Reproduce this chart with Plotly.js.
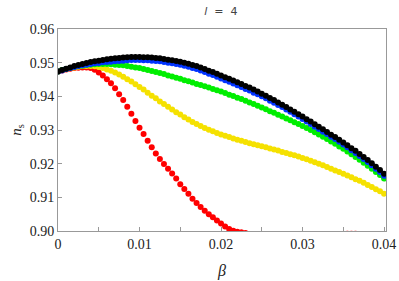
<!DOCTYPE html>
<html>
<head>
<meta charset="utf-8">
<script src="https://cdn.plot.ly/plotly-3.0.1.min.js"></script>
<style>html,body{margin:0;padding:0;background:#fff;}#chart{width:399px;height:281px;}</style>
</head>
<body>
<div id="chart"></div>
<script>
// beta grid (0 to 0.04, step 0.0005)
const beta = [0,0.0005,0.001,0.0015,0.002,0.0025,0.003,0.0035,0.004,0.0045,0.005,0.0055,0.006,0.0065,0.007,0.0075,0.008,0.0085,0.009,0.0095,0.01,0.0105,0.011,0.0115,0.012,0.0125,0.013,0.0135,0.014,0.0145,0.015,0.0155,0.016,0.0165,0.017,0.0175,0.018,0.0185,0.019,0.0195,0.02,0.0205,0.021,0.0215,0.022,0.0225,0.023,0.0235,0.024,0.0245,0.025,0.0255,0.026,0.0265,0.027,0.0275,0.028,0.0285,0.029,0.0295,0.03,0.0305,0.031,0.0315,0.032,0.0325,0.033,0.0335,0.034,0.0345,0.035,0.0355,0.036,0.0365,0.037,0.0375,0.038,0.0385,0.039,0.0395,0.04];

const nsRed = [0.9474,0.9477,0.9480,0.9482,0.9484,0.9485,0.9486,0.9486,0.9484,0.9479,0.9471,0.9462,0.9451,0.9439,0.9424,0.9406,0.9389,0.9369,0.9348,0.9327,0.9307,0.9288,0.9268,0.9249,0.9230,0.9214,0.9199,0.9185,0.9171,0.9156,0.9139,0.9125,0.9111,0.9096,0.9083,0.9071,0.9060,0.9050,0.9041,0.9031,0.9022,0.9013,0.9006,0.9001,0.8998,0.8996,0.8994,0.8990,0.8986,0.8982,0.8978,0.8975,0.8972,0.8970,0.8969,0.8969,0.8970,0.8972,0.8974,0.8976,0.8978,0.8980,0.8982,0.8984,0.8986,0.8987,0.8988,0.8989,0.8990,0.8991,0.8991,0.8992,0.8992,0.8992,0.8991,0.8991,0.8990,0.8989,0.8988,0.8986,0.8984];

const nsYellow = [0.9474,0.9478,0.9481,0.9484,0.9486,0.9488,0.9490,0.9490,0.9490,0.9489,0.9487,0.9484,0.9480,0.9476,0.9471,0.9465,0.9458,0.9451,0.9444,0.9436,0.9428,0.9420,0.9411,0.9402,0.9394,0.9385,0.9377,0.9369,0.9361,0.9353,0.9346,0.9338,0.9331,0.9324,0.9318,0.9312,0.9306,0.9301,0.9296,0.9291,0.9287,0.9283,0.9279,0.9275,0.9271,0.9268,0.9264,0.9261,0.9258,0.9255,0.9252,0.9249,0.9245,0.9242,0.9239,0.9235,0.9232,0.9228,0.9225,0.9221,0.9217,0.9213,0.9209,0.9204,0.9200,0.9195,0.9190,0.9185,0.9180,0.9175,0.9170,0.9165,0.9160,0.9154,0.9149,0.9143,0.9137,0.9131,0.9124,0.9118,0.9111];

const nsGreen = [0.9474,0.9478,0.9481,0.9484,0.9487,0.9489,0.9491,0.9493,0.9494,0.9495,0.9496,0.9496,0.9496,0.9495,0.9494,0.9493,0.9492,0.9490,0.9488,0.9486,0.9484,0.9481,0.9478,0.9475,0.9472,0.9469,0.9466,0.9462,0.9459,0.9455,0.9452,0.9448,0.9445,0.9441,0.9437,0.9434,0.9430,0.9426,0.9422,0.9418,0.9414,0.9410,0.9405,0.9401,0.9396,0.9392,0.9387,0.9382,0.9377,0.9372,0.9367,0.9362,0.9356,0.9351,0.9345,0.9340,0.9334,0.9329,0.9323,0.9318,0.9312,0.9306,0.9300,0.9293,0.9287,0.9280,0.9273,0.9266,0.9259,0.9251,0.9244,0.9236,0.9228,0.9220,0.9212,0.9203,0.9194,0.9185,0.9175,0.9166,0.9156];

const nsBlue = [0.9474,0.9477,0.9481,0.9484,0.9487,0.9490,0.9492,0.9494,0.9496,0.9498,0.9499,0.9501,0.9502,0.9503,0.9504,0.9505,0.9506,0.9507,0.9508,0.9508,0.9508,0.9507,0.9507,0.9506,0.9505,0.9504,0.9502,0.9500,0.9498,0.9496,0.9494,0.9491,0.9488,0.9484,0.9481,0.9477,0.9472,0.9467,0.9463,0.9458,0.9453,0.9448,0.9443,0.9438,0.9433,0.9428,0.9422,0.9417,0.9411,0.9406,0.9400,0.9394,0.9387,0.9381,0.9374,0.9368,0.9361,0.9354,0.9347,0.9340,0.9333,0.9325,0.9318,0.9310,0.9303,0.9295,0.9288,0.9280,0.9273,0.9265,0.9257,0.9249,0.9240,0.9232,0.9223,0.9214,0.9205,0.9195,0.9185,0.9175,0.9164];

const nsBlack = [0.9474,0.9478,0.9482,0.9486,0.9490,0.9493,0.9496,0.9499,0.9502,0.9504,0.9506,0.9508,0.9510,0.9512,0.9513,0.9514,0.9515,0.9516,0.9517,0.9517,0.9517,0.9516,0.9516,0.9515,0.9514,0.9513,0.9511,0.9509,0.9507,0.9505,0.9503,0.9500,0.9497,0.9493,0.9490,0.9486,0.9481,0.9476,0.9472,0.9467,0.9462,0.9457,0.9452,0.9447,0.9442,0.9437,0.9431,0.9426,0.9420,0.9414,0.9408,0.9402,0.9395,0.9389,0.9382,0.9375,0.9368,0.9361,0.9354,0.9347,0.9340,0.9332,0.9325,0.9317,0.9310,0.9302,0.9294,0.9286,0.9279,0.9271,0.9263,0.9255,0.9246,0.9238,0.9229,0.9220,0.9211,0.9201,0.9191,0.9181,0.9170];

const xTickVals = [0, 0.01, 0.02, 0.03, 0.04];
const xTickText = ['0', '0.01', '0.02', '0.03', '0.04'];
const yTickVals = [0.90, 0.91, 0.92, 0.93, 0.94, 0.95, 0.96];
const yTickText = ['0.90', '0.91', '0.92', '0.93', '0.94', '0.95', '0.96'];

const seriesList = [
  {y: nsRed, color: '#ff0000'},
  {y: nsYellow, color: '#f5e100'},
  {y: nsGreen, color: '#00ee00'},
  {y: nsBlue, color: '#0033ff'},
  {y: nsBlack, color: '#000000'}
];

const traces = seriesList.map(s => ({
  x: beta, y: s.y, type: 'scatter', mode: 'markers',
  marker: {color: s.color, size: 6, line: {width: 0}},
  cliponaxis: true, hoverinfo: 'skip', showlegend: false
}));

const SERIF = "'Liberation Serif', 'DejaVu Serif', serif";
const tickFont = {family: SERIF, size: 14, color: '#222'};

const layout = {
  width: 399, height: 281,
  margin: {l: 58, r: 13, t: 29, b: 50, pad: 0},
  paper_bgcolor: '#fff', plot_bgcolor: '#fff',
  showlegend: false,
  font: {family: SERIF, size: 14, color: '#222'},
  title: {
    text: '<i>l</i>&nbsp;&nbsp;=&nbsp;&nbsp;4',
    font: {family: "'DejaVu Sans', sans-serif", size: 11, color: '#444'},
    x: 0.512, xref: 'container', xanchor: 'left',
    y: 0.96, yref: 'container', yanchor: 'middle'
  },
  xaxis: {
    range: [0, 0.04024], autorange: false,
    tickvals: xTickVals, ticktext: xTickText,
    ticks: 'inside', ticklen: 4, tickcolor: '#999', tickwidth: 1,
    minor: {dtick: 0.005, tick0: 0, ticks: 'inside', ticklen: 4, tickcolor: '#999', tickwidth: 1, showgrid: false},
    showline: true, linecolor: '#999', linewidth: 1, mirror: true,
    showgrid: false, zeroline: false,
    tickfont: tickFont,
    title: {text: '<i>β</i>', font: {family: SERIF, size: 16, color: '#222'}, standoff: 14},
    automargin: false
  },
  yaxis: {
    range: [0.90, 0.96], autorange: false,
    tickvals: yTickVals, ticktext: yTickText,
    ticks: 'inside', ticklen: 4, tickcolor: '#999', tickwidth: 1,
    showline: true, linecolor: '#999', linewidth: 1, mirror: true,
    showgrid: false, zeroline: false,
    tickfont: tickFont,
    title: {text: '<i>n</i><sub>s</sub>', font: {family: SERIF, size: 15, color: '#222'}, standoff: 4},
    automargin: false
  }
};

Plotly.newPlot('chart', traces, layout, {displayModeBar: false, staticPlot: true});
</script>
</body>
</html>
